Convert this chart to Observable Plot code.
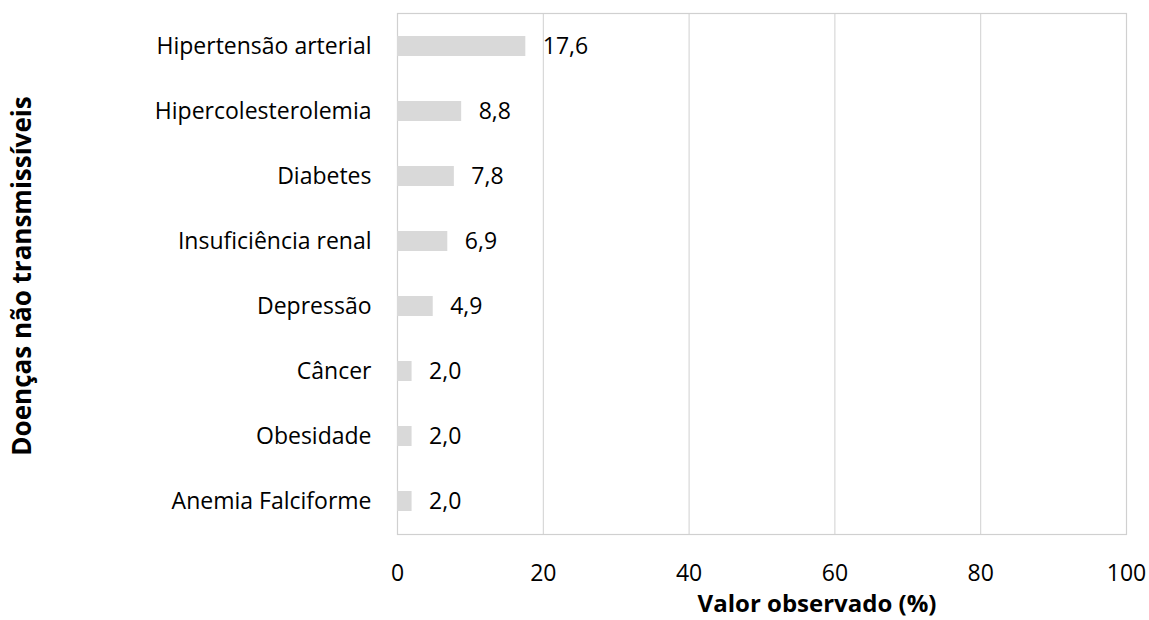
<!DOCTYPE html>
<html>
<head>
<meta charset="utf-8">
<script src="https://cdn.jsdelivr.net/npm/d3@7"></script>
<script src="https://cdn.jsdelivr.net/npm/@observablehq/plot@0.6"></script>
<style>
  html, body { margin: 0; padding: 0; background: #fff; }
  #chart svg { font-family: "Open Sans", Lato, sans-serif; }
</style>
</head>
<body>
<div id="chart"></div>
<script>
const categories = ["Hipertensão arterial", "Hipercolesterolemia", "Diabetes", "Insuficiência renal", "Depressão", "Câncer", "Obesidade", "Anemia Falciforme"];
const values = [17.6, 8.8, 7.8, 6.9, 4.9, 2.0, 2.0, 2.0];
const xTicks = [0, 20, 40, 60, 80, 100];
const xTitle = "Valor observado (%)";
const yTitle = "Doenças não transmissíveis";

const data = categories.map((c, i) => ({ category: c, value: values[i] }));
const fmt = v => v.toFixed(1).replace(".", ",");

const chart = Plot.plot({
  width: 1149,
  height: 620,
  marginLeft: 397,
  marginRight: 23,
  marginTop: 13,
  marginBottom: 86,
  style: { fontSize: "23px", color: "#000", background: "#fff" },
  x: { domain: [0, 100], ticks: xTicks },
  y: { domain: categories, paddingInner: 0.69, paddingOuter: 0.345 },
  marks: [
    Plot.gridX(xTicks.slice(1), { stroke: "#d0d0d0", strokeOpacity: 1, strokeWidth: 1 }),
    Plot.frame({ stroke: "#d0d0d0", strokeWidth: 1.2 }),
    Plot.barX(data, { x: "value", y: "category", fill: "#d9d9d9" }),
    Plot.text(data, { x: "value", y: "category", text: d => fmt(d.value), dx: 17, textAnchor: "start", fontSize: 23, fill: "#000" }),
    Plot.axisX(xTicks, { tickSize: 0, tickPadding: 30, fontSize: 23, label: null, tickFormat: d => String(d) }),
    Plot.axisY({ tickSize: 0, tickPadding: 26, fontSize: 23, label: null }),
    Plot.text([xTitle], { text: d => d, frameAnchor: "bottom", dx: 55, dy: 77, fontSize: 24, fontWeight: "bold", fill: "#000" }),
    Plot.text([yTitle], { text: d => d, frameAnchor: "left", textAnchor: "middle", rotate: -90, dx: -375, dy: 2, fontSize: 26, fontWeight: "bold", fill: "#000" })
  ]
});
document.getElementById("chart").appendChild(chart);
</script>
</body>
</html>
